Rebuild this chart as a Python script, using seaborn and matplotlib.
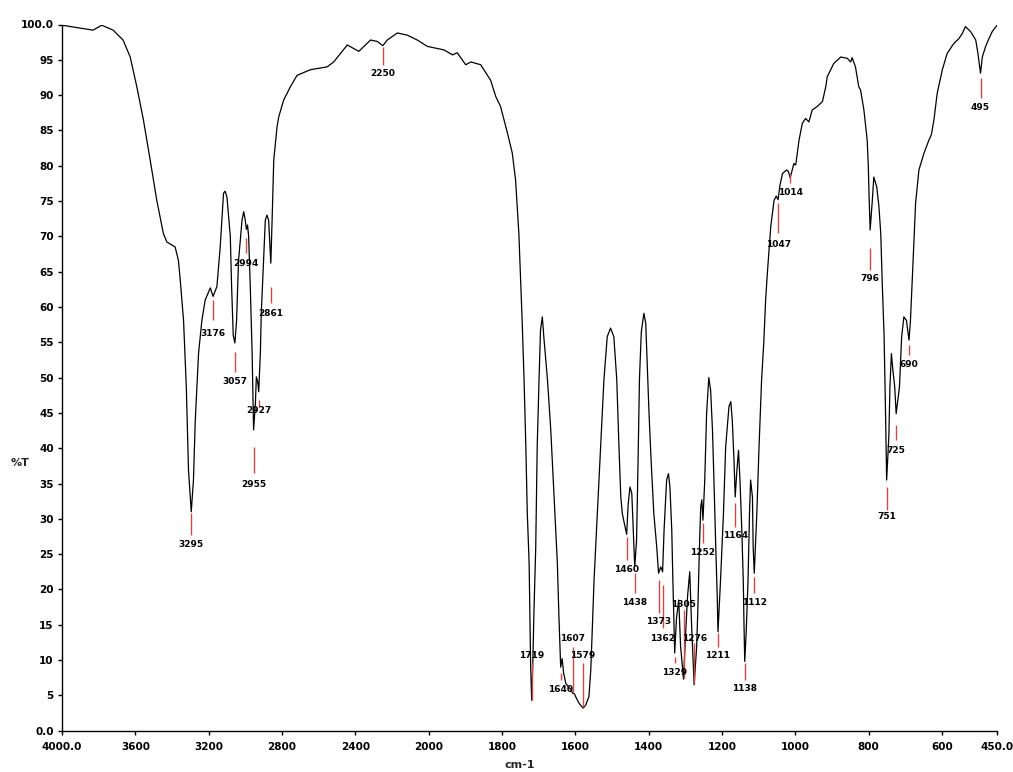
import numpy as np
import pandas as pd
import matplotlib
matplotlib.use("Agg")
import matplotlib.pyplot as plt
import seaborn as sns

# ---------------- data ----------------
wavenumber = [4000, 3902, 3831, 3783, 3721, 3667, 3628, 3592, 3556, 3519, 3483, 3447, 3428, 3383, 3365,
              3355, 3337, 3322, 3310, 3300, 3295, 3283, 3273, 3255, 3237, 3219, 3191, 3176, 3155, 3137,
              3119, 3110, 3100, 3082, 3075, 3066, 3057, 3048, 3037, 3018, 3009, 3001, 2994, 2988, 2982,
              2973, 2963, 2958, 2955, 2945, 2940, 2933, 2927, 2918, 2913, 2903, 2891, 2882, 2873, 2861,
              2854, 2845, 2827, 2818, 2791, 2754, 2718, 2645, 2554, 2518, 2444, 2381, 2317, 2280, 2250,
              2226, 2171, 2117, 2062, 2007, 1958, 1935, 1922, 1899, 1885, 1858, 1831, 1817, 1804, 1785,
              1772, 1763, 1754, 1745, 1740, 1735, 1731, 1726, 1724, 1722, 1719, 1716, 1713, 1708, 1704,
              1699, 1695, 1690, 1686, 1676, 1667, 1658, 1649, 1645, 1640, 1636, 1632, 1626, 1612, 1607,
              1602, 1599, 1590, 1579, 1572, 1563, 1558, 1554, 1549, 1540, 1531, 1522, 1513, 1504, 1495,
              1487, 1481, 1476, 1472, 1467, 1460, 1456, 1451, 1446, 1442, 1438, 1433, 1429, 1425, 1420,
              1413, 1408, 1404, 1399, 1393, 1386, 1378, 1373, 1367, 1362, 1358, 1351, 1346, 1342, 1337,
              1334, 1329, 1324, 1318, 1313, 1305, 1299, 1294, 1288, 1283, 1276, 1269, 1266, 1261, 1258,
              1255, 1252, 1247, 1242, 1236, 1231, 1226, 1222, 1217, 1213, 1211, 1204, 1196, 1190, 1181,
              1176, 1172, 1167, 1164, 1160, 1155, 1151, 1146, 1142, 1140, 1138, 1134, 1129, 1125, 1122,
              1117, 1115, 1112, 1105, 1099, 1092, 1086, 1081, 1076, 1067, 1058, 1052, 1047, 1042, 1035,
              1024, 1019, 1014, 1004, 999, 990, 981, 972, 963, 954, 940, 926, 917, 913, 895,
              876, 858, 849, 845, 836, 827, 822, 813, 804, 801, 799, 796, 790, 786, 778,
              772, 767, 763, 758, 754, 751, 745, 742, 738, 734, 729, 725, 716, 710, 704,
              697, 690, 686, 678, 672, 663, 649, 636, 629, 622, 613, 599, 586, 568, 554,
              545, 536, 522, 508, 502, 495, 490, 481, 472, 463, 450]
transmittance = [99.9, 99.5, 99.2, 99.9, 99.2, 97.8, 95.4, 91.2, 86.5, 80.8, 75.1, 70.4, 69.2, 68.5, 66.6,
                 63.8, 58.1, 48.7, 36.9, 33.0, 31.0, 35.5, 44.0, 53.5, 58.1, 61.0, 62.7, 61.5, 62.9, 68.5,
                 76.1, 76.4, 75.5, 70.0, 63.0, 56.0, 54.9, 58.0, 66.6, 72.3, 73.5, 72.4, 71.0, 71.6, 70.0,
                 62.9, 53.5, 46.4, 42.6, 46.4, 50.1, 49.5, 48.0, 53.5, 59.1, 65.2, 72.3, 73.0, 72.3, 66.2,
                 72.3, 80.8, 85.5, 86.9, 89.3, 91.2, 92.8, 93.6, 94.0, 94.7, 97.1, 96.2, 97.8, 97.6, 97.0,
                 97.8, 98.8, 98.5, 97.8, 96.9, 96.4, 95.7, 96.0, 94.3, 94.7, 94.3, 92.1, 89.8, 88.4, 84.6,
                 81.8, 78.0, 70.4, 58.0, 50.0, 40.2, 30.8, 23.7, 16.6, 9.5, 4.3, 9.5, 16.6, 26.0, 40.2,
                 49.7, 56.7, 58.6, 55.8, 49.7, 42.6, 33.1, 23.7, 16.6, 9.0, 10.2, 8.2, 6.7, 5.8, 5.3,
                 5.2, 4.8, 3.9, 3.2, 3.6, 4.8, 8.5, 14.0, 21.3, 30.8, 40.2, 49.7, 55.8, 57.0, 55.8,
                 49.7, 40.2, 33.1, 30.8, 29.5, 27.8, 32.0, 34.5, 33.6, 28.4, 23.2, 27.0, 38.0, 50.0, 56.5,
                 59.1, 57.7, 52.0, 44.9, 37.9, 30.8, 26.0, 22.3, 23.2, 22.5, 28.4, 35.5, 36.4, 34.5, 28.4,
                 21.3, 11.0, 16.0, 18.5, 12.0, 7.3, 14.0, 19.0, 22.5, 15.0, 6.5, 12.0, 17.0, 27.0, 31.7,
                 32.7, 29.8, 35.5, 44.9, 50.0, 48.2, 42.6, 35.5, 26.0, 19.0, 14.0, 21.3, 30.8, 40.2, 45.9,
                 46.6, 44.0, 37.9, 33.1, 36.4, 39.7, 35.5, 28.4, 21.3, 15.0, 9.8, 14.0, 21.3, 30.8, 35.5,
                 33.1, 26.0, 22.3, 30.8, 40.2, 49.7, 55.0, 61.0, 65.0, 71.4, 75.1, 75.7, 75.2, 77.2, 78.9,
                 79.4, 79.2, 78.3, 80.3, 80.1, 83.6, 86.0, 86.7, 86.2, 87.9, 88.4, 89.1, 91.2, 92.6, 94.5,
                 95.4, 95.2, 94.7, 95.3, 94.0, 91.2, 90.7, 87.9, 83.6, 80.0, 76.0, 70.9, 75.1, 78.4, 77.0,
                 74.2, 70.4, 63.4, 56.0, 45.0, 35.5, 41.6, 48.7, 53.4, 51.1, 48.7, 44.9, 48.7, 55.8, 58.6,
                 58.1, 55.3, 58.1, 67.6, 74.7, 79.4, 81.8, 83.6, 84.4, 86.5, 90.3, 93.6, 95.9, 97.3, 98.0,
                 98.7, 99.7, 99.0, 97.8, 95.9, 93.1, 95.4, 96.9, 98.0, 99.0, 99.9]

# peak labels: wavenumber, top and bottom of the marker line (%T), label height (%T)
peak_wn = [3295, 3176, 3057, 2994, 2955, 2927, 2861, 2250, 1719, 1640, 1607, 1579, 1460, 1438, 1373, 1362,
           1329, 1305, 1276, 1252, 1211, 1164, 1138, 1112, 1047, 1014, 796, 751, 725, 690, 495]
peak_top = [30.8, 61.0, 53.6, 69.7, 40.2, 46.8, 62.9, 96.8, 9.6, 8.2, 11.9, 9.6, 27.4, 22.3, 21.3, 20.6,
            10.4, 17.1, 12.4, 29.4, 13.8, 32.2, 9.6, 21.8, 74.7, 79.0, 68.3, 34.5, 43.3, 54.6, 92.4]
peak_bottom = [27.7, 58.1, 50.8, 67.6, 36.5, 45.8, 60.6, 94.3, 4.3, 7.2, 5.3, 3.4, 24.2, 19.5, 16.7, 14.5,
               9.6, 7.5, 6.7, 26.6, 11.9, 28.8, 7.2, 19.5, 70.5, 77.5, 65.2, 31.3, 41.2, 53.2, 89.6]
label_T = [26.3, 56.3, 49.4, 66.2, 34.8, 45.4, 59.1, 93.0, 10.7, 5.9, 13.1, 10.7, 22.8, 18.1, 15.5, 13.1,
           8.3, 17.9, 13.1, 25.3, 10.7, 27.7, 6.0, 18.1, 68.8, 76.2, 64.1, 30.3, 39.7, 51.8, 88.2]

x_ticks = [4000, 3600, 3200, 2800, 2400, 2000, 1800, 1600, 1400, 1200, 1000, 800, 600, 450]
x_tick_labels = ["4000.0", "3600", "3200", "2800", "2400", "2000", "1800", "1600", "1400",
                 "1200", "1000", "800", "600", "450.0"]
y_ticks = list(range(0, 101, 5))
y_tick_labels = ["0.0"] + [str(v) for v in range(5, 100, 5)] + ["100.0"]

# ---------------- figure ----------------
sns.set_style("ticks")
plt.rcParams['font.family'] = ['DejaVu Sans']

W, H = 1013, 772
fig = plt.figure(figsize=(W / 100, H / 100), dpi=100)
ax = fig.add_axes([62 / W, 1 - 730.7 / H, (997 - 62) / W, (730.7 - 24.5) / H])

df = pd.DataFrame({"wavenumber": wavenumber, "T": transmittance})
sns.lineplot(data=df, x="wavenumber", y="T", ax=ax, color="black", linewidth=0.9,
             sort=False, estimator=None)


def fwd(x):
    x = np.asarray(x, dtype=float)
    return np.where(x >= 2000, 2000 + (x - 2000) * 0.5, x)


def inv(u):
    u = np.asarray(u, dtype=float)
    return np.where(u >= 2000, 2000 + (u - 2000) * 2.0, u)


ax.set_xscale("function", functions=(fwd, inv))
ax.set_xlim(4000, 450)
ax.set_ylim(0, 100)

ax.vlines(peak_wn, peak_bottom, peak_top, colors="#d04848", linewidth=1.0, zorder=3)
for wn, lt in zip(peak_wn, label_T):
    ax.text(wn, lt, str(wn), ha="center", va="center", fontsize=6.5,
            fontweight="bold", color="black", zorder=4)

ax.set_xticks(x_ticks)
ax.set_xticklabels(x_tick_labels)
ax.set_yticks(y_ticks)
ax.set_yticklabels(y_tick_labels)
ax.xaxis.set_minor_locator(matplotlib.ticker.NullLocator())
ax.tick_params(axis="both", direction="out", length=3, width=1, colors="black",
               labelsize=7.5)
ax.tick_params(axis="x", pad=5)
ax.tick_params(axis="y", pad=3)
for lab in ax.get_xticklabels() + ax.get_yticklabels():
    lab.set_fontweight("bold")

sns.despine(ax=ax)
for side in ("left", "bottom"):
    ax.spines[side].set_color("black")
    ax.spines[side].set_linewidth(1.0)

ax.set_xlabel("")
ax.set_ylabel("")
fig.text(20 / W, 1 - 463 / H, "%T", ha="center", va="center", fontsize=8, fontweight="bold")
fig.text(520 / W, 1 - 765 / H, "cm-1", ha="center", va="center", fontsize=8, fontweight="bold")

fig.savefig("out.png", dpi=100, facecolor="white")
